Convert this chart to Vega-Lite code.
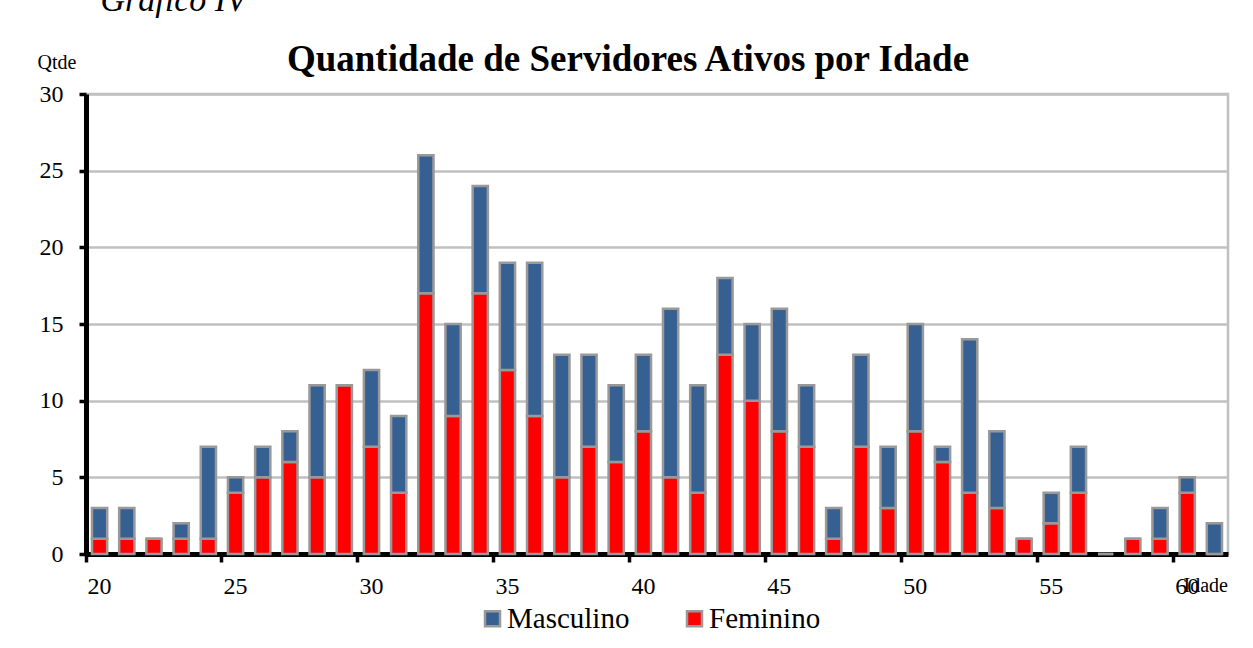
{
  "$schema": "https://vega.github.io/schema/vega-lite/v6.json",
  "width": 1142,
  "height": 460,
  "autosize": {"type": "none"},
  "padding": {"left": 86, "top": 94, "right": 25, "bottom": 94},
  "background": "white",
  "title": {
    "text": "Quantidade de Servidores Ativos por Idade",
    "font": "Liberation Serif",
    "fontSize": 37,
    "fontWeight": "bold",
    "color": "black",
    "anchor": "middle",
    "dx": -29,
    "dy": 116,
    "offset": 20
  },
  "config": {
    "font": "Liberation Serif",
    "view": {"stroke": "#c0c0c0", "strokeWidth": 2.5}
  },
  "data": {
    "values": [
      {"idade": 20, "sexo": "Feminino", "qtde": 1}, {"idade": 20, "sexo": "Masculino", "qtde": 2},
      {"idade": 21, "sexo": "Feminino", "qtde": 1}, {"idade": 21, "sexo": "Masculino", "qtde": 2},
      {"idade": 22, "sexo": "Feminino", "qtde": 1}, {"idade": 22, "sexo": "Masculino", "qtde": 0},
      {"idade": 23, "sexo": "Feminino", "qtde": 1}, {"idade": 23, "sexo": "Masculino", "qtde": 1},
      {"idade": 24, "sexo": "Feminino", "qtde": 1}, {"idade": 24, "sexo": "Masculino", "qtde": 6},
      {"idade": 25, "sexo": "Feminino", "qtde": 4}, {"idade": 25, "sexo": "Masculino", "qtde": 1},
      {"idade": 26, "sexo": "Feminino", "qtde": 5}, {"idade": 26, "sexo": "Masculino", "qtde": 2},
      {"idade": 27, "sexo": "Feminino", "qtde": 6}, {"idade": 27, "sexo": "Masculino", "qtde": 2},
      {"idade": 28, "sexo": "Feminino", "qtde": 5}, {"idade": 28, "sexo": "Masculino", "qtde": 6},
      {"idade": 29, "sexo": "Feminino", "qtde": 11}, {"idade": 29, "sexo": "Masculino", "qtde": 0},
      {"idade": 30, "sexo": "Feminino", "qtde": 7}, {"idade": 30, "sexo": "Masculino", "qtde": 5},
      {"idade": 31, "sexo": "Feminino", "qtde": 4}, {"idade": 31, "sexo": "Masculino", "qtde": 5},
      {"idade": 32, "sexo": "Feminino", "qtde": 17}, {"idade": 32, "sexo": "Masculino", "qtde": 9},
      {"idade": 33, "sexo": "Feminino", "qtde": 9}, {"idade": 33, "sexo": "Masculino", "qtde": 6},
      {"idade": 34, "sexo": "Feminino", "qtde": 17}, {"idade": 34, "sexo": "Masculino", "qtde": 7},
      {"idade": 35, "sexo": "Feminino", "qtde": 12}, {"idade": 35, "sexo": "Masculino", "qtde": 7},
      {"idade": 36, "sexo": "Feminino", "qtde": 9}, {"idade": 36, "sexo": "Masculino", "qtde": 10},
      {"idade": 37, "sexo": "Feminino", "qtde": 5}, {"idade": 37, "sexo": "Masculino", "qtde": 8},
      {"idade": 38, "sexo": "Feminino", "qtde": 7}, {"idade": 38, "sexo": "Masculino", "qtde": 6},
      {"idade": 39, "sexo": "Feminino", "qtde": 6}, {"idade": 39, "sexo": "Masculino", "qtde": 5},
      {"idade": 40, "sexo": "Feminino", "qtde": 8}, {"idade": 40, "sexo": "Masculino", "qtde": 5},
      {"idade": 41, "sexo": "Feminino", "qtde": 5}, {"idade": 41, "sexo": "Masculino", "qtde": 11},
      {"idade": 42, "sexo": "Feminino", "qtde": 4}, {"idade": 42, "sexo": "Masculino", "qtde": 7},
      {"idade": 43, "sexo": "Feminino", "qtde": 13}, {"idade": 43, "sexo": "Masculino", "qtde": 5},
      {"idade": 44, "sexo": "Feminino", "qtde": 10}, {"idade": 44, "sexo": "Masculino", "qtde": 5},
      {"idade": 45, "sexo": "Feminino", "qtde": 8}, {"idade": 45, "sexo": "Masculino", "qtde": 8},
      {"idade": 46, "sexo": "Feminino", "qtde": 7}, {"idade": 46, "sexo": "Masculino", "qtde": 4},
      {"idade": 47, "sexo": "Feminino", "qtde": 1}, {"idade": 47, "sexo": "Masculino", "qtde": 2},
      {"idade": 48, "sexo": "Feminino", "qtde": 7}, {"idade": 48, "sexo": "Masculino", "qtde": 6},
      {"idade": 49, "sexo": "Feminino", "qtde": 3}, {"idade": 49, "sexo": "Masculino", "qtde": 4},
      {"idade": 50, "sexo": "Feminino", "qtde": 8}, {"idade": 50, "sexo": "Masculino", "qtde": 7},
      {"idade": 51, "sexo": "Feminino", "qtde": 6}, {"idade": 51, "sexo": "Masculino", "qtde": 1},
      {"idade": 52, "sexo": "Feminino", "qtde": 4}, {"idade": 52, "sexo": "Masculino", "qtde": 10},
      {"idade": 53, "sexo": "Feminino", "qtde": 3}, {"idade": 53, "sexo": "Masculino", "qtde": 5},
      {"idade": 54, "sexo": "Feminino", "qtde": 1}, {"idade": 54, "sexo": "Masculino", "qtde": 0},
      {"idade": 55, "sexo": "Feminino", "qtde": 2}, {"idade": 55, "sexo": "Masculino", "qtde": 2},
      {"idade": 56, "sexo": "Feminino", "qtde": 4}, {"idade": 56, "sexo": "Masculino", "qtde": 3},
      {"idade": 57, "sexo": "Feminino", "qtde": 0}, {"idade": 57, "sexo": "Masculino", "qtde": 0},
      {"idade": 58, "sexo": "Feminino", "qtde": 1}, {"idade": 58, "sexo": "Masculino", "qtde": 0},
      {"idade": 59, "sexo": "Feminino", "qtde": 1}, {"idade": 59, "sexo": "Masculino", "qtde": 2},
      {"idade": 60, "sexo": "Feminino", "qtde": 4}, {"idade": 60, "sexo": "Masculino", "qtde": 1},
      {"idade": 61, "sexo": "Feminino", "qtde": 0}, {"idade": 61, "sexo": "Masculino", "qtde": 2}
    ]
  },
  "resolve": {"axis": {"x": "independent"}},
  "layer": [
    {
      "mark": {"type": "bar", "width": {"band": 0.56}, "stroke": "#999999", "strokeWidth": 2.5},
      "encoding": {
        "x": {
          "field": "idade",
          "type": "ordinal",
          "scale": {"paddingInner": 0, "paddingOuter": 0},
          "axis": {
            "orient": "bottom",
            "values": [20, 25, 30, 35, 40, 45, 50, 55, 60],
            "bandPosition": 0,
            "labelAngle": 0,
            "labelOffset": 0,
            "labelFont": "Liberation Serif",
            "labelFontSize": 24,
            "labelColor": "black",
            "labelPadding": 12,
            "domainColor": "black",
            "domainWidth": 5,
            "tickColor": "black",
            "tickWidth": 3.5,
            "tickSize": 8,
            "grid": false,
            "title": "Idade",
            "titleFont": "Liberation Serif",
            "titleFontSize": 20,
            "titleFontWeight": "normal",
            "titleColor": "black",
            "titleAlign": "left",
            "titleBaseline": "alphabetic",
            "titleX": 1097,
            "titleY": 37
          }
        },
        "y": {
          "field": "qtde",
          "type": "quantitative",
          "stack": "zero",
          "scale": {"domain": [0, 30], "nice": false},
          "axis": {
            "values": [0, 5, 10, 15, 20, 25, 30],
            "labelFont": "Liberation Serif",
            "labelFontSize": 24,
            "labelColor": "black",
            "labelPadding": 16,
            "domainColor": "black",
            "domainWidth": 5,
            "tickColor": "black",
            "tickWidth": 3.5,
            "tickSize": 7,
            "grid": true,
            "gridColor": "#c0c0c0",
            "gridWidth": 2.5,
            "title": "Qtde",
            "titleFont": "Liberation Serif",
            "titleFontSize": 20,
            "titleFontWeight": "normal",
            "titleColor": "black",
            "titleAngle": 0,
            "titleAlign": "left",
            "titleBaseline": "alphabetic",
            "titleX": -49,
            "titleY": -26
          }
        },
        "color": {
          "field": "sexo",
          "type": "nominal",
          "scale": {"domain": ["Masculino", "Feminino"], "range": ["#376092", "#ff0000"]},
          "legend": {
            "title": null,
            "orient": "none",
            "direction": "horizontal",
            "legendX": 392,
            "legendY": 510,
            "padding": 0,
            "symbolType": "square",
            "symbolSize": 225,
            "symbolStrokeColor": "#999999",
            "symbolStrokeWidth": 2.5,
            "labelFont": "Liberation Serif",
            "labelFontSize": 29,
            "labelColor": "black",
            "labelOffset": 0,
            "columnPadding": 50
          }
        },
        "order": {"field": "sexo", "sort": "ascending"}
      }
    },
    {
      "mark": {"type": "bar", "opacity": 0},
      "encoding": {
        "x": {
          "field": "idade",
          "type": "ordinal",
          "axis": {
            "orient": "top",
            "labels": false,
            "ticks": false,
            "domain": false,
            "grid": false,
            "title": "Gráfico IV",
            "titleFont": "Liberation Serif",
            "titleFontSize": 34,
            "titleFontStyle": "italic",
            "titleFontWeight": "normal",
            "titleColor": "black",
            "titleAlign": "left",
            "titleBaseline": "alphabetic",
            "titleX": 14,
            "titleY": -84
          }
        }
      }
    }
  ]
}
